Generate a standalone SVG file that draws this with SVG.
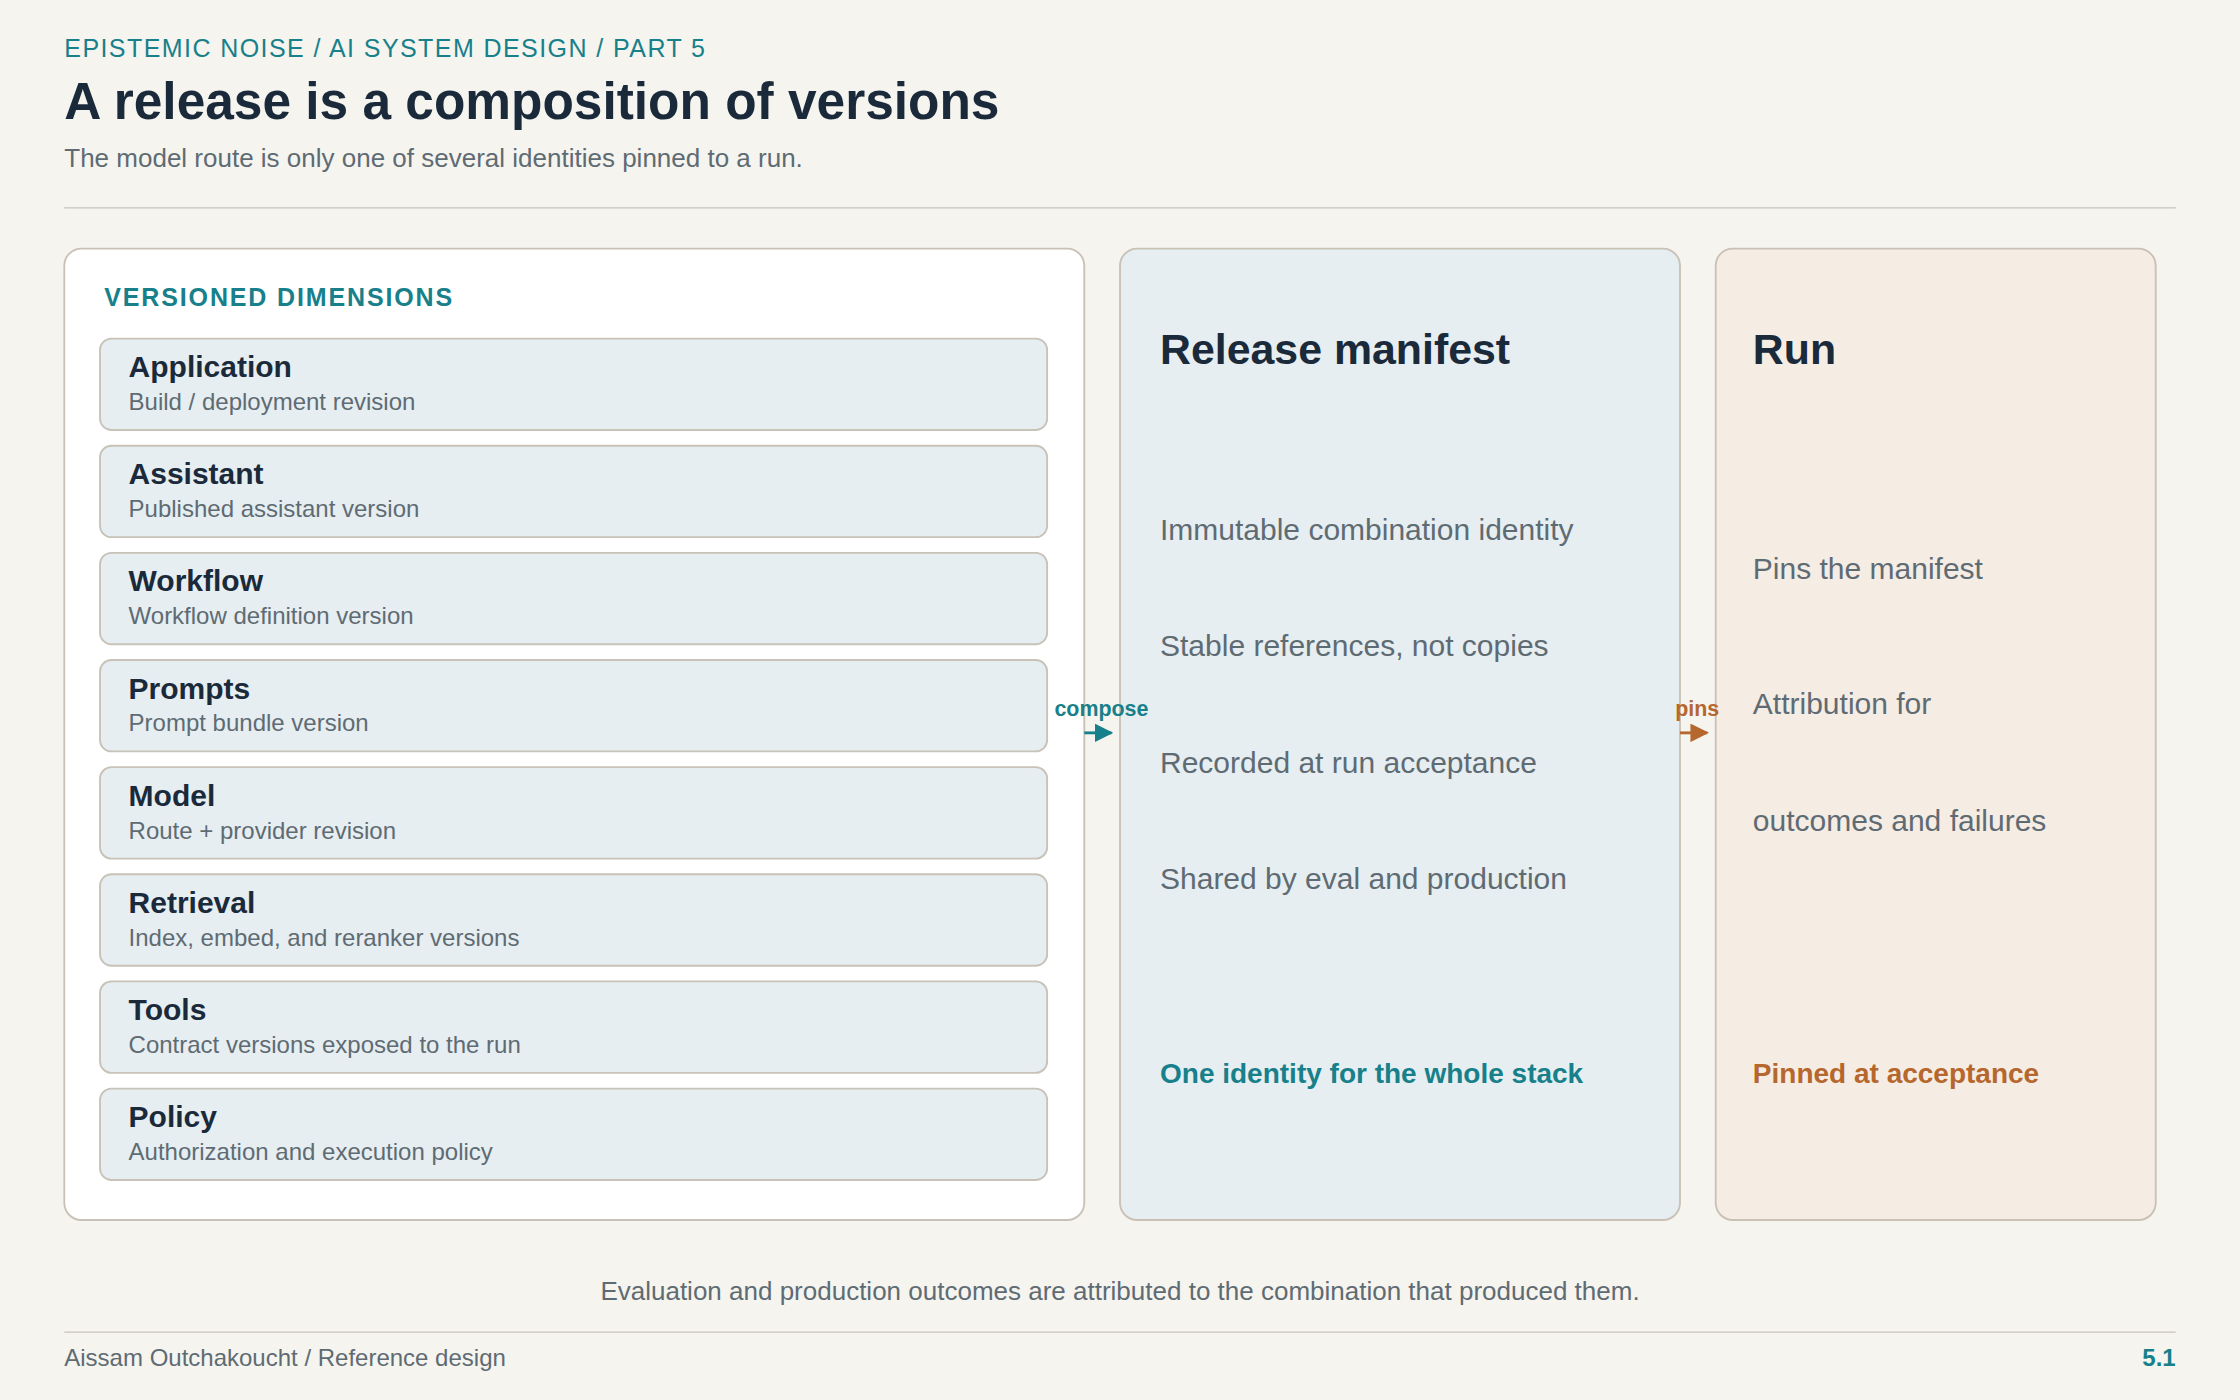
<svg xmlns="http://www.w3.org/2000/svg" width="2240" height="1400" viewBox="0 0 2240 1400">
<defs>
<style>
text{font-family:"Liberation Sans",Arial,sans-serif}
.k{fill:#17808a}
.t{fill:#1b2a3a;font-weight:bold}
.g{fill:#5f6b73}
.item{fill:#e6eef1;stroke:#c8c2b8;stroke-width:1.3}
.it{fill:#1b2a3a;font-weight:bold;font-size:21px}
.is{fill:#5f6b73;font-size:16.8px}
.body{fill:#5f6b73;font-size:21px}
</style>
<marker id="ah1" viewBox="0 0 10 10" refX="9" refY="5" markerWidth="13" markerHeight="13" markerUnits="userSpaceOnUse" orient="auto"><path d="M0,0L10,5L0,10z" fill="#17808a"/></marker>
<marker id="ah2" viewBox="0 0 10 10" refX="9" refY="5" markerWidth="13" markerHeight="13" markerUnits="userSpaceOnUse" orient="auto"><path d="M0,0L10,5L0,10z" fill="#b5672d"/></marker>
</defs>
<rect width="2240" height="1400" fill="#f5f4ef"/>
<g transform="scale(1.4285714)">
<text x="45" y="40" class="k" font-size="17.5" letter-spacing="1">EPISTEMIC NOISE / AI SYSTEM DESIGN / PART 5</text>
<text x="45" y="83" class="t" font-size="36">A release is a composition of versions</text>
<text x="45" y="117" class="g" font-size="18.2">The model route is only one of several identities pinned to a run.</text>
<line x1="45" y1="145.5" x2="1523" y2="145.5" stroke="#c9c4bb" stroke-width="1"/>

<g id="dimensions">
<rect x="45" y="174" width="714" height="680" rx="12" fill="#ffffff" stroke="#c9c1b6" stroke-width="1.3"/>
<text x="73" y="214" class="k" font-size="17.5" font-weight="bold" letter-spacing="1.3">VERSIONED DIMENSIONS</text>
</g>
<g id="application"><rect x="70" y="237" width="663" height="64" rx="8" class="item"/><text x="90" y="264" class="it">Application</text><text x="90" y="287" class="is">Build / deployment revision</text></g>
<g id="assistant"><rect x="70" y="312" width="663" height="64" rx="8" class="item"/><text x="90" y="339" class="it">Assistant</text><text x="90" y="362" class="is">Published assistant version</text></g>
<g id="workflow"><rect x="70" y="387" width="663" height="64" rx="8" class="item"/><text x="90" y="414" class="it">Workflow</text><text x="90" y="437" class="is">Workflow definition version</text></g>
<g id="prompts"><rect x="70" y="462" width="663" height="64" rx="8" class="item"/><text x="90" y="489" class="it">Prompts</text><text x="90" y="512" class="is">Prompt bundle version</text></g>
<g id="model"><rect x="70" y="537" width="663" height="64" rx="8" class="item"/><text x="90" y="564" class="it">Model</text><text x="90" y="587" class="is">Route + provider revision</text></g>
<g id="retrieval"><rect x="70" y="612" width="663" height="64" rx="8" class="item"/><text x="90" y="639" class="it">Retrieval</text><text x="90" y="662" class="is">Index, embed, and reranker versions</text></g>
<g id="tools"><rect x="70" y="687" width="663" height="64" rx="8" class="item"/><text x="90" y="714" class="it">Tools</text><text x="90" y="737" class="is">Contract versions exposed to the run</text></g>
<g id="policy"><rect x="70" y="762" width="663" height="64" rx="8" class="item"/><text x="90" y="789" class="it">Policy</text><text x="90" y="812" class="is">Authorization and execution policy</text></g>

<g id="manifest">
<rect x="784" y="174" width="392" height="680" rx="12" fill="#e6eef1" stroke="#c9c1b6" stroke-width="1.3"/>
<text x="812" y="255" class="t" font-size="30">Release manifest</text>
<text x="812" y="378" class="body">Immutable combination identity</text>
<text x="812" y="459" class="body">Stable references, not copies</text>
<text x="812" y="541" class="body">Recorded at run acceptance</text>
<text x="812" y="622" class="body">Shared by eval and production</text>
<text x="812" y="758" class="k" font-size="19.6" font-weight="bold">One identity for the whole stack</text>
</g>

<g id="run">
<rect x="1201" y="174" width="308" height="680" rx="12" fill="#f5ece4" stroke="#c9c1b6" stroke-width="1.3"/>
<text x="1227" y="255" class="t" font-size="30">Run</text>
<text x="1227" y="405" class="body">Pins the manifest</text>
<text x="1227" y="500" class="body">Attribution for</text>
<text x="1227" y="582" class="body">outcomes and failures</text>
<text x="1227" y="758" font-size="19.6" font-weight="bold" fill="#b5672d">Pinned at acceptance</text>
</g>

<g id="connectors">
<line x1="759" y1="513" x2="778" y2="513" stroke="#17808a" stroke-width="2" marker-end="url(#ah1)"/>
<text x="771" y="501" text-anchor="middle" font-size="15" font-weight="bold" fill="#17808a">compose</text>
<line x1="1176" y1="513" x2="1195" y2="513" stroke="#b5672d" stroke-width="2" marker-end="url(#ah2)"/>
<text x="1188" y="501" text-anchor="middle" font-size="15" font-weight="bold" fill="#b5672d">pins</text>
</g>

<text x="784" y="910" text-anchor="middle" class="g" font-size="18.2">Evaluation and production outcomes are attributed to the combination that produced them.</text>
<line x1="45" y1="932.5" x2="1523" y2="932.5" stroke="#c9c4bb" stroke-width="1"/>
<text x="45" y="956" class="g" font-size="16.8">Aissam Outchakoucht / Reference design</text>
<text x="1523" y="956" text-anchor="end" class="k" font-size="16.8" font-weight="bold">5.1</text>
</g>
</svg>
